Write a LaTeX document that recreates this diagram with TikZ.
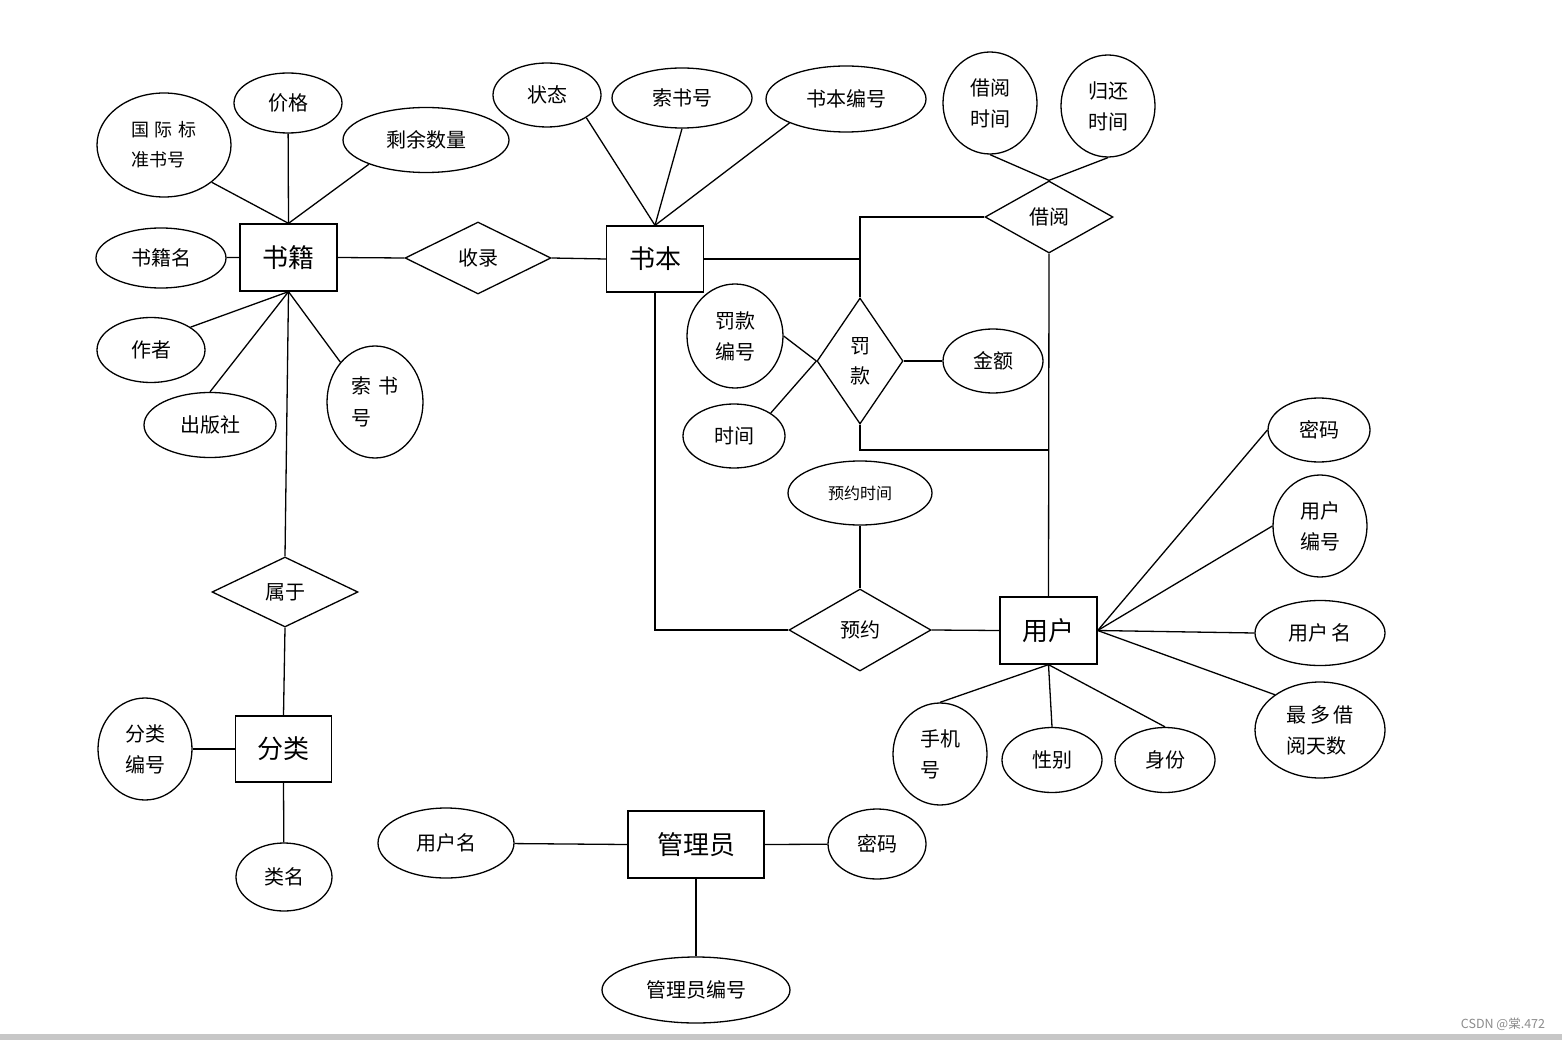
\documentclass[tikz,border=0pt]{standalone}
\usepackage{fontspec}
\setmainfont{Noto Sans CJK SC}
\usetikzlibrary{shapes.geometric}
\tikzset{
  lw/.style={line width=1.3pt},
  attr/.style={ellipse, draw, lw, inner sep=0pt, align=center, font=\fontsize{20}{28}\selectfont},
  ent/.style={rectangle, draw, lw, inner sep=0pt, font=\fontsize{26}{30}\selectfont},
  rel/.style={diamond, draw, lw, inner sep=0pt, align=center, font=\fontsize{20}{28}\selectfont},
  conn/.style={lw}
}
\begin{document}
\begin{tikzpicture}[x=1pt,y=-1pt]
\useasboundingbox (0,0) rectangle (1562,1040);
\fill[white] (0,0) rectangle (1562,1040);
\fill[black!22] (0,1034) rectangle (1562,1040);

% entities
\node[ent, minimum width=97pt, minimum height=67pt] (shuji) at (288.5,257.5) {书籍};
\node[ent, minimum width=97pt, minimum height=66pt] (shuben) at (655,259) {书本};
\node[ent, minimum width=97pt, minimum height=67pt] (yonghu) at (1048.5,630.5) {用户};
\node[ent, minimum width=96pt, minimum height=66pt] (fenlei) at (283.5,749) {分类};
\node[ent, minimum width=136pt, minimum height=67pt] (gly) at (696,844.5) {管理员};

% relations
\node[rel, minimum width=146pt, minimum height=72pt] (shoulu) at (478,258) {收录};
\node[rel, minimum width=128pt, minimum height=72pt] (jieyue) at (1049,217) {借阅};
\node[rel, minimum width=86pt, minimum height=126pt, font=\fontsize{20}{30}\selectfont] (fakuan) at (860,361) {罚\\款};
\node[rel, minimum width=142pt, minimum height=82pt] (yuyue) at (860,630) {预约};
\node[rel, minimum width=146pt, minimum height=70pt] (shuyu) at (285,592) {属于};

% attributes of 书籍
\node[attr, minimum width=134pt, minimum height=104pt, align=left, font=\fontsize{18}{30}\selectfont] (isbn) at (164,145) {国\,\,际\,\,标\\准书号};
\node[attr, minimum width=108pt, minimum height=60pt] (jiage) at (288,103) {价格};
\node[attr, minimum width=166pt, minimum height=65pt] (shengyu) at (426,140) {剩余数量};
\node[attr, minimum width=130pt, minimum height=60pt] (sjm) at (161,258) {书籍名};
\node[attr, minimum width=108pt, minimum height=65pt] (zuozhe) at (151,350) {作者};
\node[attr, minimum width=132pt, minimum height=65pt] (cbs) at (210,425) {出版社};
\node[attr, minimum width=96pt, minimum height=112pt, align=left, font=\fontsize{20}{32}\selectfont] (ssha) at (375,402) {索\,\,书\\号};

% attributes of 书本
\node[attr, minimum width=108pt, minimum height=64pt] (zhuangtai) at (547,95) {状态};
\node[attr, minimum width=140pt, minimum height=60pt] (sshb) at (682,98) {索书号};
\node[attr, minimum width=160pt, minimum height=66pt] (sbbh) at (846,99) {书本编号};

% attributes of 借阅
\node[attr, minimum width=94pt, minimum height=102pt, font=\fontsize{20}{31}\selectfont] (jysj) at (990,103) {借阅\\时间};
\node[attr, minimum width=94pt, minimum height=102pt, font=\fontsize{20}{31}\selectfont] (ghsj) at (1108,106) {归还\\时间};

% attributes of 罚款
\node[attr, minimum width=96pt, minimum height=104pt, font=\fontsize{20}{31}\selectfont] (fkbh) at (735,336) {罚款\\编号};
\node[attr, minimum width=102pt, minimum height=64pt] (shijian) at (734,436) {时间};
\node[attr, minimum width=100pt, minimum height=64pt] (jine) at (993,361) {金额};

% attribute of 预约
\node[attr, minimum width=144pt, minimum height=64pt, font=\fontsize{16}{20}\selectfont] (yysj) at (860,493) {预约时间};

% attributes of 用户
\node[attr, minimum width=102pt, minimum height=64pt] (mima) at (1319,430) {密码};
\node[attr, minimum width=94pt, minimum height=102pt, font=\fontsize{20}{31}\selectfont] (yhbh) at (1320,526) {用户\\编号};
\node[attr, minimum width=130pt, minimum height=65pt] (yhm) at (1320,633) {用户\,名};
\node[attr, minimum width=130pt, minimum height=96pt, align=left, font=\fontsize{20}{31}\selectfont] (zdjy) at (1320,730) {最\,多\,借\\阅天数};
\node[attr, minimum width=94pt, minimum height=102pt, align=left, font=\fontsize{20}{31}\selectfont] (sjh) at (940,754) {手机\\号};
\node[attr, minimum width=100pt, minimum height=65pt] (xingbie) at (1052,760) {性别};
\node[attr, minimum width=100pt, minimum height=65pt] (shenfen) at (1165,760) {身份};

% attributes of 分类
\node[attr, minimum width=94pt, minimum height=102pt, font=\fontsize{20}{31}\selectfont] (flbh) at (145,749) {分类\\编号};
\node[attr, minimum width=96pt, minimum height=68pt] (leiming) at (284,877) {类名};

% attributes of 管理员
\node[attr, minimum width=136pt, minimum height=70pt] (gyhm) at (446,843) {用户名};
\node[attr, minimum width=98pt, minimum height=70pt] (gmm) at (877,844) {密码};
\node[attr, minimum width=188pt, minimum height=66pt] (glybh) at (696,990) {管理员编号};

% junction coordinates
\coordinate (j1) at (860,259);
\coordinate (j2) at (1049,450);

% connectors: 书籍
\draw[conn] (isbn.-38) -- (shuji.north);
\draw[conn] (jiage) -- (shuji.north);
\draw[conn] (shengyu.-157) -- (shuji.north);
\draw[conn] (sjm) -- (shuji.west);
\draw[conn] (zuozhe.30) -- (shuji.south);
\draw[conn] (cbs.north) -- (shuji.south);
\draw[conn] (ssha.131) -- (shuji.south);
\draw[conn] (shuji.south) -- (shuyu.north);
\draw[conn] (shuji.east) -- (shoulu.west);
\draw[conn] (shoulu.east) -- (shuben.west);

% 书本
\draw[conn] (zhuangtai.-30) -- (shuben.north);
\draw[conn] (sshb.south) -- (shuben.north);
\draw[conn] (sbbh.-157) -- (shuben.north);
\draw[conn] (shuben.east) -- (j1) |- (jieyue.west);
\draw[conn] (j1) -- (fakuan.north);
\draw[conn] (yuyue.west) -| (shuben.south);

% 借阅
\draw[conn] (jysj.south) -- (jieyue.north);
\draw[conn] (ghsj.south) -- (jieyue.north);
\draw[conn] (jieyue.south) -- (yonghu.north);

% 罚款
\draw[conn] (fkbh.east) -- (fakuan.west);
\draw[conn] (shijian.32) -- (fakuan.west);
\draw[conn] (fakuan.east) -- (jine);
\draw[conn] (fakuan.south) |- (j2);

% 预约
\draw[conn] (yysj) -- (yuyue.north);
\draw[conn] (yuyue.east) -- (yonghu.west);

% 用户
\draw[conn] (mima.west) -- (yonghu.east);
\draw[conn] (yhbh.west) -- (yonghu.east);
\draw[conn] (yhm.west) -- (yonghu.east);
\draw[conn] (zdjy.142) -- (yonghu.east);
\draw[conn] (sjh.north) -- (yonghu.south);
\draw[conn] (xingbie.north) -- (yonghu.south);
\draw[conn] (shenfen.north) -- (yonghu.south);

% 分类
\draw[conn] (shuyu.south) -- (fenlei.north);
\draw[conn] (flbh) -- (fenlei.west);
\draw[conn] (fenlei.south) -- (leiming);

% 管理员
\draw[conn] (gyhm) -- (gly.west);
\draw[conn] (gly.east) -- (gmm);
\draw[conn] (gly.south) -- (glybh);

% watermark
\node[text=black!45, font=\fontsize{12.5}{14}\selectfont, inner sep=0pt] (wm) at (1503,1024) {CSDN @棠.472};
\end{tikzpicture}
\end{document}
